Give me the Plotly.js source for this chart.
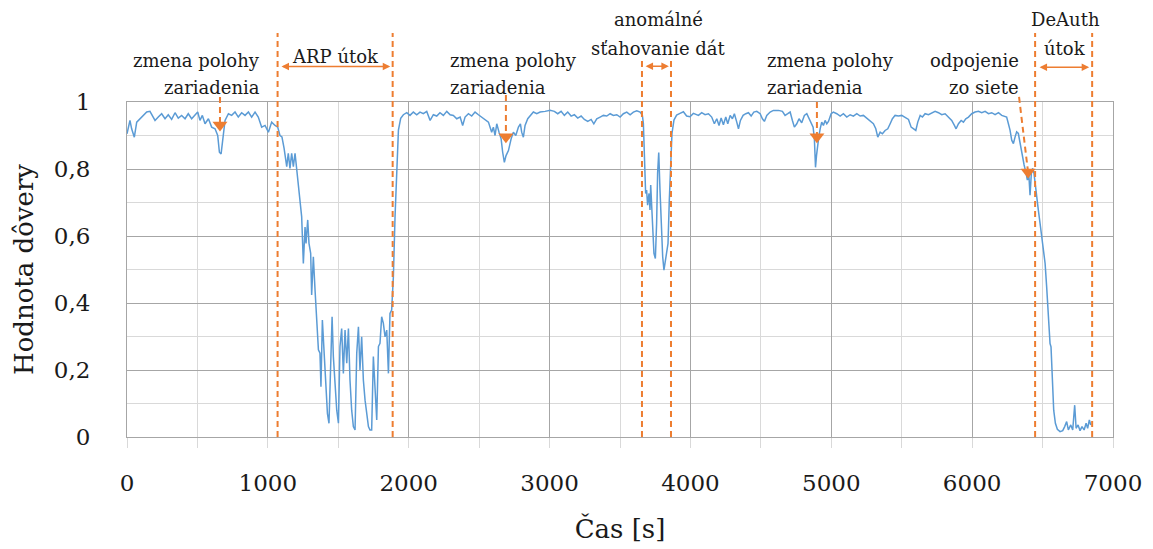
<!DOCTYPE html>
<html><head><meta charset="utf-8">
<script src="https://cdn.plot.ly/plotly-3.0.1.min.js"></script>
<style>html,body{margin:0;padding:0;background:#fff}</style>
</head><body><div id="chart" style="width:1153px;height:549px"></div>
<script>
// ---- data: [time s, trust value] samples ----
const segStart = [[0,0.905],[10,0.925],[21,0.945],[33,0.92],[52,0.895],[69,0.94],[92,0.95],[116,0.96],[140,0.97],[163,0.972],[199,0.945],[222,0.955],[246,0.965],[270,0.95],[293,0.962],[317,0.948],[341,0.968],[364,0.952],[388,0.96],[412,0.95],[435,0.965],[459,0.95],[483,0.96],[502,0.97],[518,0.945],[535,0.96],[554,0.935],[578,0.95],[601,0.925],[625,0.92],[644,0.90],[656,0.85],[668,0.845],[679,0.89],[696,0.945],[720,0.965],[743,0.96],[767,0.97],[790,0.955],[814,0.968],[838,0.96],[862,0.97],[885,0.955],[909,0.97],[932,0.955],[956,0.925],[980,0.93],[1004,0.91],[1027,0.94],[1051,0.93],[1070,0.925]];
const segArp = [[1086,0.90],[1100,0.896],[1115,0.862],[1134,0.807],[1145,0.847],[1157,0.802],[1169,0.847],[1181,0.807],[1193,0.847],[1205,0.802],[1224,0.727],[1240,0.658],[1252,0.518],[1264,0.627],[1271,0.578],[1283,0.648],[1292,0.578],[1304,0.548],[1311,0.424],[1323,0.538],[1335,0.439],[1347,0.359],[1359,0.26],[1370,0.25],[1377,0.15],[1387,0.349],[1399,0.24],[1411,0.14],[1423,0.07],[1434,0.041],[1446,0.26],[1456,0.359],[1465,0.24],[1477,0.14],[1489,0.08],[1501,0.041],[1512,0.27],[1524,0.324],[1536,0.19],[1548,0.319],[1560,0.22],[1572,0.324],[1583,0.17],[1595,0.08],[1607,0.031],[1619,0.021],[1631,0.25],[1643,0.329],[1654,0.2],[1666,0.299],[1678,0.17],[1690,0.11],[1702,0.061],[1714,0.031],[1725,0.021],[1737,0.021],[1749,0.24],[1761,0.14],[1773,0.051],[1785,0.27],[1796,0.28],[1808,0.359],[1820,0.339],[1832,0.299],[1844,0.319],[1856,0.19],[1867,0.369],[1879,0.379],[1891,0.478],[1903,0.658],[1915,0.807],[1927,0.916],[1943,0.951],[1962,0.962]];
const segMiddle = [[1986,0.968],[2009,0.96],[2033,0.97],[2057,0.962],[2080,0.97],[2104,0.965],[2128,0.972],[2152,0.945],[2175,0.962],[2199,0.958],[2222,0.968],[2246,0.96],[2270,0.972],[2294,0.962],[2317,0.96],[2341,0.95],[2365,0.955],[2383,0.93],[2400,0.955],[2424,0.965],[2447,0.958],[2471,0.97],[2495,0.962],[2518,0.955],[2542,0.95],[2566,0.94],[2589,0.91],[2601,0.925],[2613,0.90],[2625,0.935],[2641,0.91],[2656,0.89],[2667,0.85],[2679,0.82],[2691,0.84],[2708,0.855],[2727,0.89],[2743,0.91],[2760,0.90],[2779,0.925],[2793,0.935],[2802,0.91],[2814,0.895],[2826,0.93],[2845,0.95],[2862,0.96],[2885,0.97],[2909,0.965],[2933,0.97],[2968,0.972],[3004,0.975],[3034,0.972],[3058,0.965],[3082,0.972],[3105,0.96],[3129,0.97],[3153,0.958],[3176,0.962],[3200,0.952],[3224,0.958],[3247,0.948],[3271,0.942],[3295,0.948],[3314,0.935],[3335,0.95],[3359,0.955],[3382,0.96],[3406,0.958],[3430,0.965],[3453,0.96],[3477,0.962],[3501,0.955],[3524,0.965],[3548,0.97],[3572,0.962],[3595,0.97],[3619,0.974],[3643,0.97],[3659,0.96]];
const segAnomaly = [[3666,0.936],[3673,0.837],[3682,0.727],[3689,0.737],[3696,0.692],[3706,0.727],[3713,0.678],[3718,0.752],[3725,0.687],[3732,0.618],[3741,0.548],[3751,0.533],[3760,0.638],[3767,0.787],[3775,0.849],[3784,0.737],[3794,0.618],[3803,0.538],[3812,0.498],[3822,0.528],[3831,0.543],[3841,0.578],[3850,0.707],[3860,0.837],[3869,0.906],[3883,0.946],[3902,0.961],[3926,0.966],[3950,0.971],[3973,0.958],[3997,0.956],[4021,0.966],[4044,0.961]];
const segLate = [[4057,0.96],[4080,0.968],[4104,0.962],[4128,0.965],[4151,0.955],[4170,0.935],[4187,0.95],[4203,0.93],[4218,0.952],[4234,0.932],[4251,0.955],[4265,0.935],[4282,0.96],[4298,0.95],[4312,0.965],[4329,0.94],[4341,0.92],[4355,0.945],[4374,0.96],[4393,0.965],[4412,0.968],[4431,0.958],[4450,0.97],[4471,0.972],[4495,0.965],[4511,0.95],[4525,0.942],[4542,0.96],[4566,0.97],[4589,0.975],[4625,0.975],[4653,0.972],[4672,0.96],[4691,0.965],[4708,0.97],[4724,0.945],[4738,0.925],[4755,0.935],[4771,0.95],[4790,0.938],[4809,0.96],[4826,0.965],[4843,0.95],[4857,0.94],[4871,0.925],[4880,0.89],[4888,0.805],[4895,0.84],[4902,0.87],[4911,0.895],[4921,0.92],[4932,0.94],[4944,0.93],[4956,0.945],[4968,0.935],[4980,0.942],[4999,0.965],[5015,0.97],[5039,0.965],[5063,0.958],[5086,0.965],[5110,0.955],[5134,0.962],[5157,0.958],[5181,0.965],[5205,0.958],[5228,0.96],[5252,0.952],[5276,0.945],[5299,0.935],[5316,0.92],[5330,0.895],[5347,0.91],[5363,0.905],[5382,0.915],[5401,0.92],[5418,0.935],[5434,0.95],[5453,0.96],[5477,0.958],[5500,0.96],[5524,0.955],[5548,0.948],[5567,0.925],[5583,0.92],[5600,0.915],[5614,0.94],[5631,0.96],[5647,0.955],[5666,0.965],[5690,0.962],[5713,0.968],[5737,0.972],[5761,0.968],[5784,0.962],[5808,0.965],[5832,0.955],[5855,0.945],[5874,0.93],[5886,0.92],[5903,0.935],[5922,0.945],[5938,0.94],[5955,0.95],[5974,0.955],[5997,0.965],[6021,0.97],[6045,0.972],[6068,0.968],[6092,0.972],[6116,0.965],[6139,0.968],[6163,0.962],[6187,0.968],[6210,0.96],[6234,0.958]];
const segDeauth = [[6245,0.955],[6257,0.936],[6269,0.916],[6281,0.886],[6293,0.876],[6305,0.896],[6316,0.911],[6328,0.906],[6340,0.876],[6352,0.846],[6369,0.812],[6383,0.787],[6392,0.767],[6402,0.787],[6411,0.722],[6421,0.792],[6430,0.802],[6439,0.787],[6449,0.747],[6458,0.717],[6470,0.677],[6482,0.638],[6494,0.598],[6506,0.548],[6518,0.518],[6529,0.448],[6541,0.359],[6553,0.279],[6560,0.269],[6570,0.17],[6579,0.08],[6591,0.041],[6605,0.023],[6624,0.016],[6643,0.019],[6657,0.031],[6671,0.046],[6683,0.021],[6700,0.036],[6714,0.021],[6728,0.095],[6738,0.026],[6752,0.036],[6766,0.019],[6780,0.031],[6795,0.021],[6809,0.041],[6820,0.026],[6832,0.051],[6842,0.036]];

const xTickVals = [0,1000,2000,3000,4000,5000,6000,7000];
const yTickVals = [0,0.2,0.4,0.6,0.8,1];

// interval events (dashed boundaries + double arrow)
const intervalStart = [1069, 3656, 6447];
const intervalEnd   = [1886, 3862, 6852];
const intervalTop   = [1.206, 1.131, 1.206];
const intervalArrowY = [1.106, 1.107, 1.104];
const arrowInset = [17, 15, 21];

// point events (dashed arrow with triangle head)
const pointTailX = [660, 2690, 4898, 6333];
const pointTailY = [1.015, 1.021, 1.0, 1.015];
const pointHeadX = [660, 2690, 4898, 6397];
const pointHeadY = [0.931, 0.896, 0.896, 0.791];

// labels
const labelText = ['zmena polohy','zariadenia','ARP útok','zmena polohy','zariadenia','anomálné','sťahovanie dát','zmena polohy','zariadenia','odpojenie','zo siete','DeAuth','útok'];
const labelX    = [958, 958, 1477, 2279, 2279, 3770, 3770, 4530, 4530, 6347, 6347, 6660, 6660];
const labelY    = [1.125, 1.042, 1.137, 1.125, 1.042, 1.245, 1.161, 1.125, 1.042, 1.125, 1.042, 1.245, 1.161];
const labelAnchor = ['right','right','center','left','left','center','center','left','left','right','right','center','center'];

const orange = '#ED7D31';
const serif = 'DejaVu Serif';
const ink = '#1a1a1a';
const samples = [].concat(segStart, segArp, segMiddle, segAnomaly, segLate, segDeauth);
const timeSec = samples.map(p => p[0]);
const trust = samples.map(p => p[1]);

const traces = [
  {x: timeSec, y: trust, type: 'scatter', mode: 'lines',
   line: {color: '#5B9BD5', width: 1.5}, hoverinfo: 'skip', showlegend: false},
  {x: pointHeadX, y: pointHeadY, type: 'scatter', mode: 'markers', cliponaxis: false,
   marker: {symbol: 'triangle-down', size: 13, color: orange}, hoverinfo: 'skip', showlegend: false}
];

const shapes = [];
for (let i = 0; i < intervalStart.length; i++) {
  [intervalStart[i], intervalEnd[i]].forEach(xv => shapes.push({
    type: 'line', xref: 'x', yref: 'paper', x0: xv, x1: xv, y0: 0, y1: intervalTop[i],
    line: {color: orange, width: 2, dash: '6px,4px'}
  }));
}
for (let i = 0; i < pointTailX.length; i++) {
  shapes.push({type: 'line', xref: 'x', yref: 'paper',
    x0: pointTailX[i], y0: pointTailY[i], x1: pointHeadX[i], y1: pointHeadY[i],
    line: {color: orange, width: 2, dash: '6px,4px'}});
}

const annotations = [];
for (let i = 0; i < intervalStart.length; i++) {
  annotations.push({xref: 'x', yref: 'paper', x: intervalEnd[i] - arrowInset[i], y: intervalArrowY[i],
    axref: 'x', ax: intervalStart[i] + arrowInset[i], ayref: 'pixel', ay: 0,
    text: '', showarrow: true, arrowside: 'end+start', arrowhead: 2, arrowsize: 1,
    arrowwidth: 1.5, arrowcolor: orange, standoff: 0, startstandoff: 0});
}
for (let i = 0; i < labelText.length; i++) {
  annotations.push({xref: 'x', yref: 'paper', x: labelX[i], y: labelY[i], text: labelText[i],
    showarrow: false, xanchor: labelAnchor[i], yanchor: 'middle',
    font: {family: serif, size: 18, color: ink}});
}

const layout = {
  width: 1153, height: 549,
  margin: {l: 127, r: 40, t: 102, b: 112},
  paper_bgcolor: '#ffffff', plot_bgcolor: '#ffffff',
  separators: ', ',
  font: {family: serif, color: ink},
  showlegend: false,
  xaxis: {
    range: [0, 7000], tickvals: xTickVals, ticktext: xTickVals.map(String),
    showgrid: true, gridcolor: '#a6a6a6', gridwidth: 1,
    ticks: 'outside', ticklen: 10, tickcolor: '#d9d9d9', tickwidth: 1,
    minor: {dtick: 500, tick0: 0, showgrid: true, gridcolor: '#d9d9d9', gridwidth: 1,
            ticks: 'outside', ticklen: 10, tickcolor: '#d9d9d9'},
    showline: true, mirror: true, linecolor: '#a6a6a6', linewidth: 1,
    zeroline: false, ticklabelstandoff: 15,
    tickfont: {family: serif, size: 23, color: ink},
    title: {text: 'Čas [s]', font: {family: serif, size: 26, color: ink}, standoff: 25},
    fixedrange: true
  },
  yaxis: {
    range: [0, 1], tickvals: yTickVals,
    showgrid: true, gridcolor: '#a6a6a6', gridwidth: 1,
    minor: {dtick: 0.1, tick0: 0, showgrid: true, gridcolor: '#d9d9d9', gridwidth: 1},
    ticks: '', showline: true, mirror: true, linecolor: '#a6a6a6', linewidth: 1,
    zeroline: false, ticklabelstandoff: 31,
    tickfont: {family: serif, size: 23, color: ink},
    title: {text: 'Hodnota dôvery', font: {family: serif, size: 26, color: ink}, standoff: 12},
    fixedrange: true
  },
  shapes: shapes,
  annotations: annotations
};

Plotly.newPlot('chart', traces, layout, {displayModeBar: false, staticPlot: true});
</script></body></html>
